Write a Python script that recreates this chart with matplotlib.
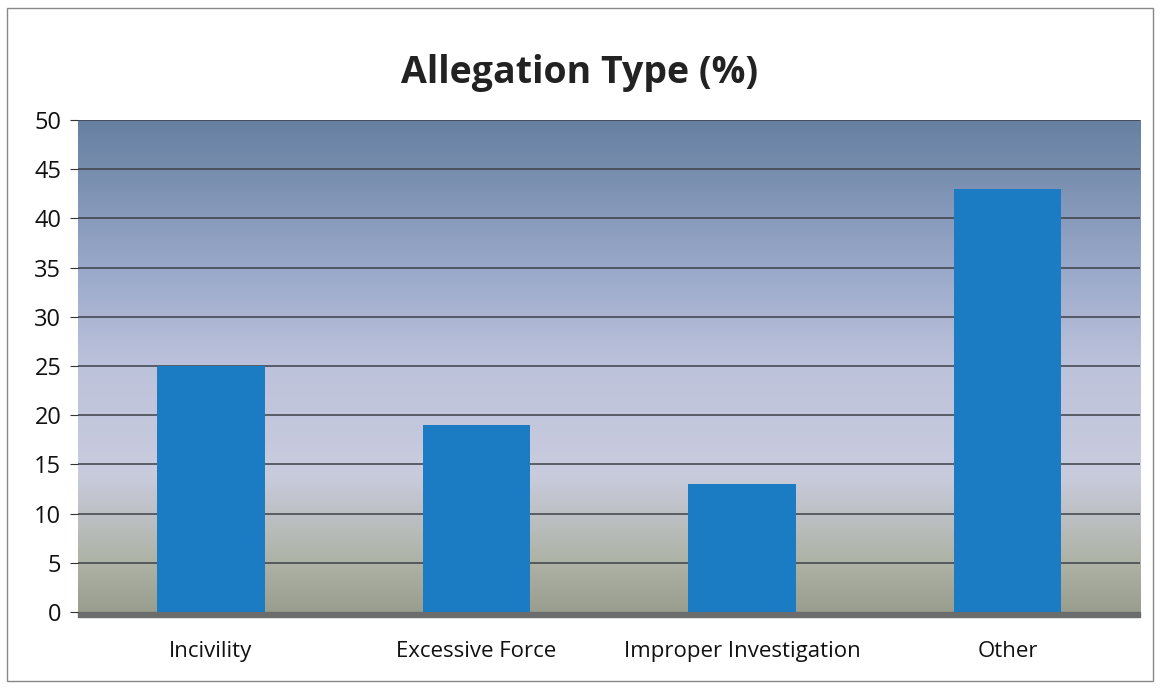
import numpy as np
import matplotlib.pyplot as plt
from matplotlib.patches import Rectangle

## data
categories = ['Incivility', 'Excessive Force', 'Improper Investigation', 'Other']
values     = [25, 19, 13, 43]
yticks     = [0, 5, 10, 15, 20, 25, 30, 35, 40, 45, 50]

plt.rcParams['font.family'] = ['Open Sans', 'DejaVu Sans']

fig = plt.figure(figsize=(11.6, 6.89), dpi=100)
ax = fig.add_axes([0.0672, 0.1118, 0.9158, 0.7142])

# background gradient (top steel blue -> lavender -> grey green)
stops = np.array([[0.40, 0.50, 0.63],
                  [0.60, 0.66, 0.79],
                  [0.74, 0.76, 0.86],
                  [0.79, 0.80, 0.87],
                  [0.68, 0.70, 0.65],
                  [0.60, 0.62, 0.56]])
pos = np.array([0.0, 0.3, 0.5, 0.72, 0.9, 1.0])
yy = np.linspace(0, 1, 256)
grad = np.stack([np.interp(yy, pos, stops[:, k]) for k in range(3)], axis=-1)
grad = grad[:, None, :]
ax.imshow(grad, extent=(-0.5, 3.5, 0, 50), origin='upper', aspect='auto', zorder=0)

for t in yticks[1:]:
    ax.axhline(t, color='#3c4048', lw=1.1, zorder=1)

x = np.arange(len(categories))
ax.bar(x, values, width=0.405, color='#1b7cc3', zorder=2)

ax.set_xlim(-0.5, 3.5)
ax.set_ylim(0, 50)
ax.set_yticks(yticks)
ax.set_xticks(x)
ax.set_xticklabels(categories, fontsize=16, color='#111111')
ax.tick_params(axis='y', labelsize=17, length=6, color='#333333', pad=6, labelcolor='#111111')
ax.tick_params(axis='x', length=0, pad=21)
for s in ax.spines.values():
    s.set_visible(False)

# floor shadow under the plot
ax.add_patch(Rectangle((-0.5, -0.55), 4.0, 0.55, color='#6a6d6c', clip_on=False, zorder=1))

fig.suptitle('Allegation Type (%)', fontsize=27, fontweight='bold', y=0.922, color='#222222')

fig.add_artist(Rectangle((0.006, 0.012), 0.988, 0.976, transform=fig.transFigure,
                         fill=False, edgecolor='#888888', lw=1))

fig.savefig('out.png', dpi=100)
